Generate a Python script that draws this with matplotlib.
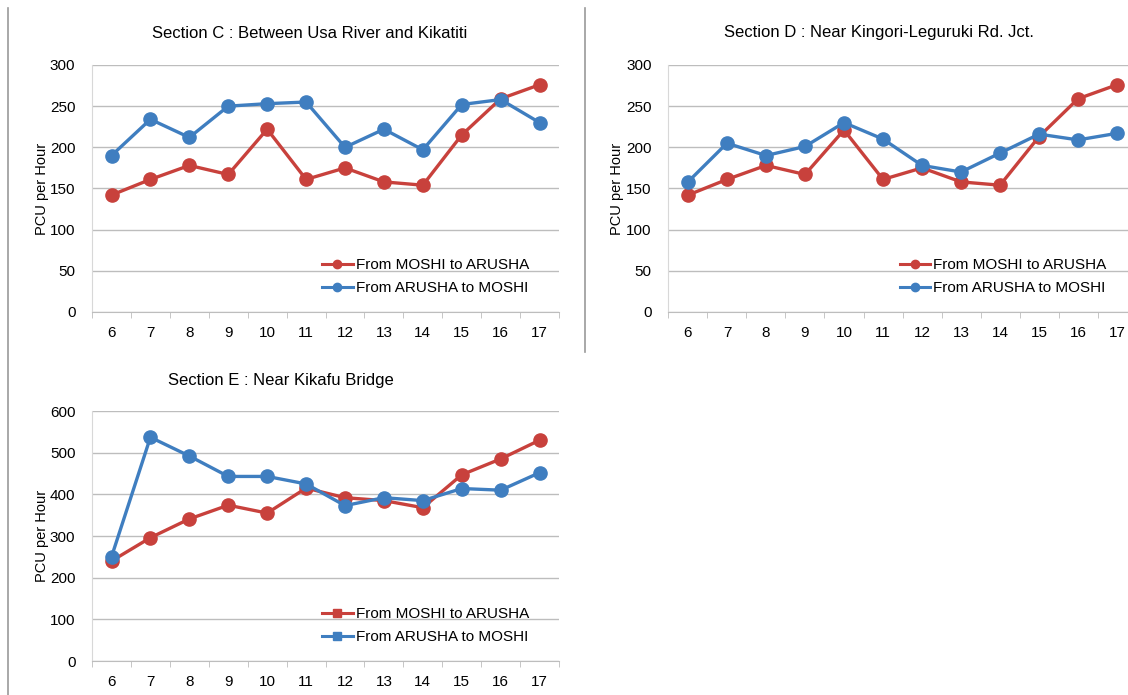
import matplotlib
matplotlib.use("Agg")
import matplotlib.pyplot as plt
from matplotlib.lines import Line2D
from matplotlib.ticker import FixedLocator

plt.rcParams['font.family'] = ['Liberation Sans Narrow', 'Liberation Sans', 'DejaVu Sans']

hours = [6, 7, 8, 9, 10, 11, 12, 13, 14, 15, 16, 17]

# Section C : Between Usa River and Kikatiti
c_moshi_arusha = [142, 161, 178, 167, 222, 161, 175, 158, 154, 215, 259, 276]
c_arusha_moshi = [190, 234, 212, 250, 253, 255, 200, 222, 197, 252, 258, 230]

# Section D : Near Kingori-Leguruki Rd. Jct.
d_moshi_arusha = [142, 161, 178, 167, 221, 161, 175, 158, 154, 213, 259, 276]
d_arusha_moshi = [158, 205, 190, 201, 230, 210, 178, 170, 193, 216, 209, 217]

# Section E : Near Kikafu Bridge
e_moshi_arusha = [240, 296, 341, 374, 355, 415, 392, 385, 368, 447, 485, 530]
e_arusha_moshi = [250, 537, 492, 443, 443, 425, 373, 392, 385, 414, 410, 452]

RED = '#C8413C'
BLUE = '#3F7EC0'
GRID = '#BDBDBD'

fig = plt.figure(figsize=(11.28, 6.95), dpi=100)


def draw_panel(rect, red, blue, ymax, step, title, title_xy, ylabel_x, legend_marker):
    ax = fig.add_axes(rect)
    x = list(range(len(hours)))
    ax.plot(x, red, color=RED, lw=2.4, marker='o', ms=9.5, zorder=3)
    ax.plot(x, blue, color=BLUE, lw=2.4, marker='o', ms=9.5, zorder=4)
    ax.set_xlim(-0.5, len(hours) - 0.5)
    ax.set_ylim(0, ymax)
    ax.set_yticks(range(0, ymax + 1, step))
    ax.set_xticks(x)
    ax.set_xticklabels([str(h) for h in hours])
    ax.xaxis.set_minor_locator(FixedLocator([i - 0.5 for i in range(len(hours) + 1)]))
    ax.tick_params(axis='x', which='major', length=0, pad=10, labelsize=11)
    ax.tick_params(axis='x', which='minor', length=4, color=GRID)
    ax.tick_params(axis='y', length=0, pad=12, labelsize=11)
    ax.grid(axis='y', color=GRID, lw=1)
    ax.set_axisbelow(True)
    for s in ('top', 'right'):
        ax.spines[s].set_visible(False)
    ax.spines['left'].set_color('#D8D8D8')
    ax.spines['bottom'].set_color(GRID)
    ax.patch.set_alpha(0)

    handles = [
        Line2D([], [], color=RED, lw=2.2, marker=legend_marker, ms=6),
        Line2D([], [], color=BLUE, lw=2.2, marker=legend_marker, ms=6),
    ]
    ax.legend(handles, ['From MOSHI to ARUSHA', 'From ARUSHA to MOSHI'],
              loc='lower right', bbox_to_anchor=(0.965, 0.012), frameon=False,
              fontsize=11, handlelength=2.0, handletextpad=0.2, labelspacing=0.6)

    fig.text(title_xy[0], title_xy[1], title, ha='center', va='center', fontsize=12)
    y0, h = rect[1], rect[3]
    fig.text(ylabel_x, y0 + h / 2, 'PCU per Hour', rotation=90,
             ha='center', va='center', fontsize=10.5)
    return ax


draw_panel([0.0816, 0.5511, 0.414, 0.3554], c_moshi_arusha, c_arusha_moshi, 300, 50,
           'Section C : Between Usa River and Kikatiti', (310 / 1128, 1 - 33 / 695),
           42 / 1128, 'o')
draw_panel([0.5926, 0.5511, 0.415, 0.3554], d_moshi_arusha, d_arusha_moshi, 300, 50,
           'Section D : Near Kingori-Leguruki Rd. Jct.', (879 / 1128, 1 - 33 / 695),
           617 / 1128, 'o')
draw_panel([0.0816, 0.0489, 0.414, 0.3597], e_moshi_arusha, e_arusha_moshi, 600, 100,
           'Section E : Near Kikafu Bridge', (281 / 1128, 1 - 380 / 695),
           42 / 1128, 's')

# frame edges between the panels
fig.add_artist(Line2D([8 / 1128, 8 / 1128], [0, 1 - 8 / 695], color='#9A9A9A', lw=1.2))
fig.add_artist(Line2D([585 / 1128, 585 / 1128], [1 - 352 / 695, 1 - 8 / 695],
                      color='#9A9A9A', lw=1.2))

fig.savefig('out.png', dpi=100)
